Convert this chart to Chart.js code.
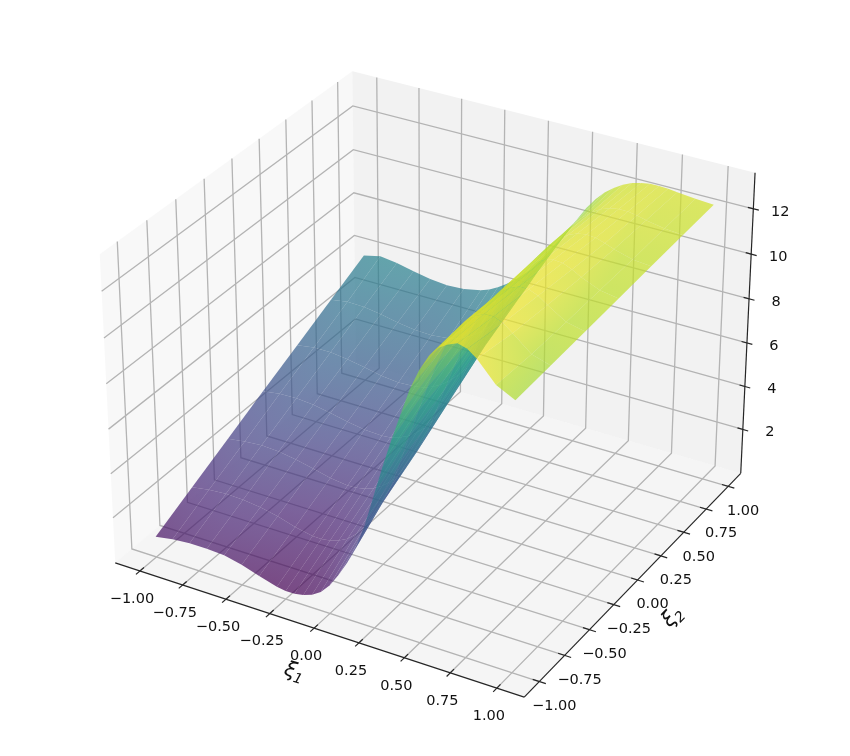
<!DOCTYPE html>
<html lang="en">
  <head>
    <meta charset="UTF-8" />
    <title>surface</title>
    <style>
      html, body { margin: 0; padding: 0; background: #fff; }
      canvas { display: block; }
    </style>
  </head>
  <body>
    <canvas id="chart" width="850" height="756"></canvas>
    <script src="https://cdn.jsdelivr.net/npm/chart.js"></script>
    <script>
      // grid of the surface
      const xi1 = [-1, -0.9, -0.8, -0.7, -0.6, -0.5, -0.4, -0.3, -0.25, -0.2, -0.15, -0.1, -0.05, 0, 0.05, 0.1, 0.15, 0.2, 0.25, 0.3, 0.35, 0.4, 0.45, 0.5, 0.55, 0.6, 0.65, 0.7, 0.75, 0.8, 0.9, 1];
      const xi2 = [-1, -0.667, -0.333, 0, 0.333, 0.667, 1];

      const zRow0 = [0.86, 1.0, 1.07, 1.07, 1.03, 0.85, 0.6, 0.36, 0.3, 0.3, 0.38, 0.52, 0.78, 1.2, 1.8, 2.48, 3.3, 4.4, 5.8, 7.2, 8.5, 9.7, 10.9, 11.8, 12.5, 12.95, 13.2, 13.36, 13.25, 12.95, 12.1, 11.7];
      const zRow1 = [1.71, 1.84, 1.9, 1.87, 1.78, 1.62, 1.37, 1.21, 1.2, 1.26, 1.38, 1.59, 1.93, 2.41, 3.0, 3.72, 4.62, 5.77, 7.03, 8.24, 9.4, 10.49, 11.44, 12.14, 12.66, 12.97, 13.17, 13.18, 13.02, 12.7, 12.05, 11.81];
      const zRow2 = [2.56, 2.67, 2.73, 2.68, 2.56, 2.38, 2.19, 2.09, 2.11, 2.19, 2.33, 2.57, 2.9, 3.4, 3.96, 4.64, 5.51, 6.58, 7.7, 8.78, 9.79, 10.78, 11.57, 12.18, 12.61, 12.88, 13.05, 13.04, 12.88, 12.6, 12.11, 11.93];
      const zRow3 = [3.4, 3.52, 3.55, 3.48, 3.33, 3.16, 3.03, 2.99, 3.03, 3.15, 3.33, 3.6, 3.97, 4.46, 5.0, 5.68, 6.54, 7.51, 8.48, 9.41, 10.31, 11.14, 11.78, 12.27, 12.6, 12.82, 12.93, 12.9, 12.74, 12.51, 12.18, 12.05];
      const zRow4 = [4.23, 4.35, 4.36, 4.26, 4.11, 3.95, 3.87, 3.91, 3.98, 4.13, 4.35, 4.65, 5.03, 5.48, 6.02, 6.69, 7.49, 8.32, 9.14, 9.95, 10.74, 11.4, 11.91, 12.28, 12.56, 12.73, 12.79, 12.76, 12.63, 12.47, 12.25, 12.17];
      const zRow5 = [5.07, 5.2, 5.17, 5.05, 4.89, 4.77, 4.74, 4.83, 4.93, 5.09, 5.33, 5.62, 5.97, 6.37, 6.88, 7.49, 8.16, 8.85, 9.55, 10.26, 10.92, 11.48, 11.9, 12.22, 12.46, 12.61, 12.68, 12.68, 12.61, 12.51, 12.36, 12.29];
      const zRow6 = [5.9, 6.07, 5.97, 5.8, 5.65, 5.58, 5.62, 5.78, 5.93, 6.14, 6.4, 6.7, 7.05, 7.45, 7.95, 8.5, 9.05, 9.6, 10.2, 10.8, 11.3, 11.7, 12.0, 12.25, 12.43, 12.53, 12.6, 12.6, 12.58, 12.53, 12.45, 12.4];
      const zRows = [zRow0, zRow1, zRow2, zRow3, zRow4, zRow5, zRow6];

      const xTicks = [-1, -0.75, -0.5, -0.25, 0, 0.25, 0.5, 0.75, 1];
      const yTicks = [-1, -0.75, -0.5, -0.25, 0, 0.25, 0.5, 0.75, 1];
      const zTicks = [2, 4, 6, 8, 10, 12];

      // box limits
      const xLim = [-1.1458, 1.1458];
      const yLim = [-1.1458, 1.1458];
      const zLim = [-0.07, 13.57];
      const zMid = 6.75;
      const zColor = [0.32, 13.36];

      const viridis = ["#440154", "#482475", "#414487", "#355f8d", "#2a788e", "#21918c", "#22a884", "#44bf70", "#7ad151", "#bddf26", "#fde725"];

      // same camera as a default mplot3d axes: elev 30, azim -60, dist 10
      function toView(x, y, z) {
        const dz = (z - zMid) * 0.0682;
        const px = x * 0.541, py = y * 0.541;
        return {
          u: 0.866 * px + 0.5 * py,
          v: -0.25 * px + 0.433 * py + 0.866 * dz,
          w: 0.433 * px - 0.75 * py + 0.5 * dz,
        };
      }
      function project(x, y, z) {
        const p = toView(x, y, z);
        const d = 10 - p.w;
        return { x: p.u / d, y: p.v / d };
      }

      function hexToRgb(h) {
        return [parseInt(h.slice(1, 3), 16), parseInt(h.slice(3, 5), 16), parseInt(h.slice(5, 7), 16)];
      }
      function colorFor(z) {
        let t = (z - zColor[0]) / (zColor[1] - zColor[0]);
        t = Math.max(0, Math.min(1, t)) * (viridis.length - 1);
        const i = Math.min(Math.floor(t), viridis.length - 2);
        const a = hexToRgb(viridis[i]), b = hexToRgb(viridis[i + 1]);
        const f = t - i;
        const c = a.map((v, k) => Math.round(v + (b[k] - v) * f));
        return "rgba(" + c[0] + "," + c[1] + "," + c[2] + ",0.7)";
      }

      const datasets = [];
      function addPoly(points, color) {
        datasets.push({ data: points, fill: "shape", backgroundColor: color, borderWidth: 0, pointRadius: 0, tension: 0, clip: false });
      }
      function addLine(points, color, width) {
        datasets.push({ data: points, fill: false, borderColor: color, borderWidth: width, pointRadius: 0, tension: 0, clip: false });
      }

      // panes
      const [x0, x1] = xLim, [y0, y1] = yLim, [z0, z1] = zLim;
      addPoly([project(x0, y0, z0), project(x0, y1, z0), project(x0, y1, z1), project(x0, y0, z1), project(x0, y0, z0)], "rgba(242,242,242,0.5)");
      addPoly([project(x0, y1, z0), project(x1, y1, z0), project(x1, y1, z1), project(x0, y1, z1), project(x0, y1, z0)], "rgba(230,230,230,0.5)");
      addPoly([project(x0, y0, z0), project(x1, y0, z0), project(x1, y1, z0), project(x0, y1, z0), project(x0, y0, z0)], "rgba(236,236,236,0.5)");

      // grid
      const gridColor = "#b4b4b4";
      xTicks.forEach(t => addLine([project(t, y0, z0), project(t, y1, z0), project(t, y1, z1)], gridColor, 1.3));
      yTicks.forEach(t => addLine([project(x1, t, z0), project(x0, t, z0), project(x0, t, z1)], gridColor, 1.3));
      zTicks.forEach(t => addLine([project(x1, y1, t), project(x0, y1, t), project(x0, y0, t)], gridColor, 1.3));

      // axis lines and tick marks
      const axisColor = "#262626";
      addLine([project(x0, y0, z0), project(x1, y0, z0)], axisColor, 1.2);
      addLine([project(x1, y0, z0), project(x1, y1, z0)], axisColor, 1.2);
      addLine([project(x1, y1, z0), project(x1, y1, z1)], axisColor, 1.2);
      xTicks.forEach(t => addLine([project(t, y0 - 0.035, z0), project(t, y0 + 0.035, z0)], axisColor, 1.2));
      yTicks.forEach(t => addLine([project(x1 - 0.035, t, z0), project(x1 + 0.035, t, z0)], axisColor, 1.2));
      zTicks.forEach(t => addLine([project(x1 - 0.03, y1, t), project(x1 + 0.03, y1, t)], axisColor, 1.2));

      // surface cells, far ones painted first
      const cells = [];
      for (let j = 0; j < xi2.length - 1; j++) {
        for (let i = 0; i < xi1.length - 1; i++) {
          const corners = [
            [xi1[i], xi2[j], zRows[j][i]],
            [xi1[i + 1], xi2[j], zRows[j][i + 1]],
            [xi1[i + 1], xi2[j + 1], zRows[j + 1][i + 1]],
            [xi1[i], xi2[j + 1], zRows[j + 1][i]],
          ];
          let depth = 0;
          corners.forEach(c => { depth += toView(c[0], c[1], c[2]).w; });
          cells.push({ corners, depth });
        }
      }
      cells.sort((a, b) => a.depth - b.depth);

      cells.forEach(cell => {
        const pts = cell.corners.map(c => project(c[0], c[1], c[2]));
        pts.push(pts[0]);
        const low = cell.corners.reduce((m, c) => (c[2] < m[2] ? c : m));
        const high = cell.corners.reduce((m, c) => (c[2] > m[2] ? c : m));
        addPoly(pts, function (ctx) {
          const { x, y } = ctx.chart.scales;
          const a = project(low[0], low[1], low[2]), b = project(high[0], high[1], high[2]);
          const coords = [x.getPixelForValue(a.x), y.getPixelForValue(a.y), x.getPixelForValue(b.x), y.getPixelForValue(b.y)];
          if (!coords.every(Number.isFinite)) return colorFor(low[2]);
          const g = ctx.chart.ctx.createLinearGradient(coords[0], coords[1], coords[2], coords[3]);
          for (let s = 0; s <= 4; s++) g.addColorStop(s / 4, colorFor(low[2] + (high[2] - low[2]) * s / 4));
          return g;
        });
      });

      // index 0 goes on top in chart.js, so order falls as we paint
      datasets.forEach((d, i) => { d.order = datasets.length - i; });

      const fmt = v => (v < 0 ? "\u2212" : "") + Math.abs(v).toFixed(2);

      const axisText = {
        id: "axisText",
        afterDatasetsDraw(chart) {
          const { ctx, scales } = chart;
          const px = p => [scales.x.getPixelForValue(p.x), scales.y.getPixelForValue(p.y)];
          ctx.save();
          ctx.fillStyle = "#111";
          ctx.font = '14.5px "DejaVu Sans"';
          ctx.textAlign = "center";
          ctx.textBaseline = "middle";
          xTicks.forEach(t => {
            const [a, b] = px(project(t, y0, z0));
            ctx.fillText(fmt(t), a - 8, b + 28);
          });
          yTicks.forEach(t => {
            const [a, b] = px(project(x1, t, z0));
            ctx.fillText(fmt(t), a + 15, b + 24.5);
          });
          zTicks.forEach(t => {
            const [a, b] = px(project(x1, y1, t));
            ctx.fillText(String(t), a + 27, b + 3);
          });
          const label = (p, dx, dy, rot, sub) => {
            const [a, b] = px(p);
            ctx.save();
            ctx.translate(a + dx, b + dy);
            ctx.rotate(rot);
            ctx.textAlign = "left";
            ctx.font = 'italic 21px "DejaVu Sans"';
            ctx.fillText("\u03be", -10, 0);
            ctx.font = 'italic 14px "DejaVu Sans"';
            ctx.fillText(sub, 1, 6);
            ctx.restore();
          };
          label(project(0, y0, z0), -20, 44, 0.3, "1");
          label(project(x1, 0, z0), 35, 37, -0.8, "2");
          ctx.restore();
        },
      };

      new Chart(document.getElementById("chart"), {
        type: "line",
        data: { datasets },
        options: {
          responsive: false,
          animation: false,
          devicePixelRatio: 1,
          layout: { padding: 0 },
          plugins: { legend: { display: false }, tooltip: { enabled: false }, title: { display: false } },
          scales: {
            x: { type: "linear", display: false, min: -434 / 3778, max: 416 / 3778 },
            y: { type: "linear", display: false, min: -387.5 / 3778, max: 368.5 / 3778 },
          },
        },
        plugins: [axisText],
      });
    </script>
  </body>
</html>
